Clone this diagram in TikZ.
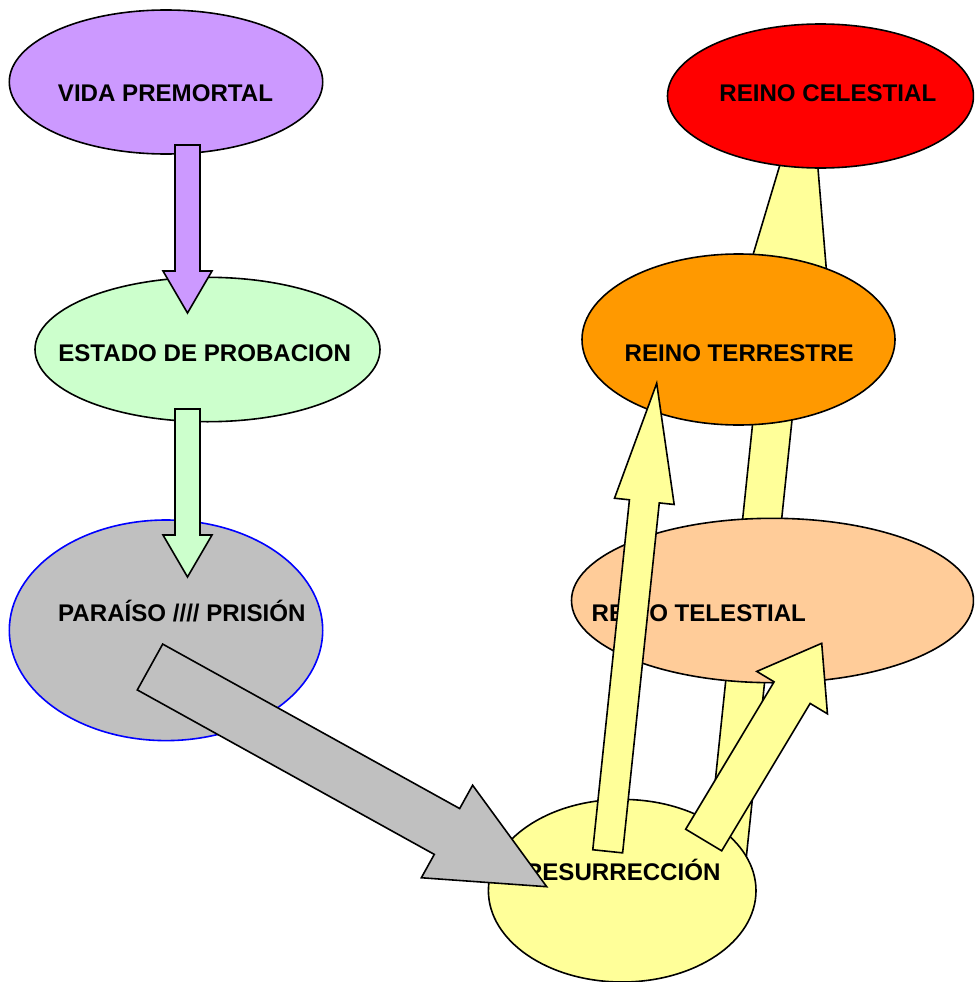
\documentclass[tikz,border=0pt]{standalone}
\usepackage{fontspec}
\setmainfont{Liberation Sans}
\usetikzlibrary{shapes.geometric,calc}
\definecolor{cPurple}{HTML}{CC99FF}
\definecolor{cGreen}{HTML}{CCFFCC}
\definecolor{cGray}{HTML}{C0C0C0}
\definecolor{cYellow}{HTML}{FFFF99}
\definecolor{cRed}{HTML}{FF0000}
\definecolor{cOrange}{HTML}{FF9900}
\definecolor{cPeach}{HTML}{FFCC99}
\definecolor{cBlue}{HTML}{0000FF}
\tikzset{
  oval/.style={ellipse, draw=black, line width=1.6pt, inner sep=0pt},
  lbl/.style={font=\fontsize{24.1}{28}\selectfont\bfseries, inner sep=0pt, anchor=base},
  blk/.style={draw=black, line width=1.6pt, line join=miter},
}
% #1 style, #2 tail, #3 tip, #4 half shaft width, #5 half head width, #6 head length, #7 name
\newcommand\blockarrow[7]{%
  \coordinate (#7-hb) at ($(#3)!#6!(#2)$);
  \draw[blk,#1] ($(#2)!#4!90:(#3)$) -- ($(#7-hb)!#4!90:(#3)$) -- ($(#7-hb)!#5!90:(#3)$)
    -- (#3) -- ($(#7-hb)!#5!-90:(#3)$) -- ($(#7-hb)!#4!-90:(#3)$) -- ($(#2)!#4!-90:(#3)$) -- cycle;
}
\begin{document}
\begin{tikzpicture}[x=1pt,y=-1pt]
\clip (0,0) rectangle (974,982);
\useasboundingbox (0,0) rectangle (974,982);

% arrow endpoints
\coordinate (bigT) at (724.4,880);
\coordinate (bigH) at (809.5,66);
\coordinate (pT) at (187.5,145);
\coordinate (pH) at (187.5,313);
\coordinate (gT) at (187.5,409);
\coordinate (gH) at (187.5,577);
\coordinate (sT) at (150,667);
\coordinate (sH) at (546.7,886.7);
\coordinate (y1T) at (607.7,851.3);
\coordinate (y1H) at (656.7,383.3);
\coordinate (y2T) at (703.7,840);
\coordinate (y2H) at (821.7,643.3);

% big yellow arrow behind everything
\blockarrow{fill=cYellow}{bigT}{bigH}{19.4pt}{42.5pt}{225pt}{big}

% ellipses
\node[oval, fill=cPurple, minimum width=313.4pt, minimum height=144pt] (vida) at (166,82) {};
\node[oval, fill=cGreen, minimum width=345pt, minimum height=144.4pt] (estado) at (207.5,349.5) {};
\node[oval, fill=cGray, draw=cBlue, minimum width=313.4pt, minimum height=220.6pt] (paraiso) at (166,630.3) {};
\node[oval, fill=cRed, minimum width=306pt, minimum height=144pt] (celestial) at (820.5,96) {};
\node[oval, fill=cOrange, minimum width=313pt, minimum height=171pt] (terrestre) at (738.5,339.5) {};
\node[oval, fill=cPeach, minimum width=402pt, minimum height=164.4pt] (telestial) at (772.5,600.5) {};
\node[oval, fill=cYellow, minimum width=267.6pt, minimum height=182.6pt] (resurr) at (622.2,890.7) {};

% texts
\node[lbl] (vidat) at (165.5,101) {VIDA PREMORTAL};
\node[lbl] (estadot) at (204.7,361.7) {ESTADO DE PROBACION};
\node[lbl] (paraisot) at (181.8,621.7) {PARAÍSO //// PRISIÓN};
\node[lbl] (celestialt) at (827.8,101.7) {REINO CELESTIAL};
\node[lbl] (terrestret) at (739.2,361.7) {REINO TERRESTRE};
\node[lbl] (telestialt) at (698.8,621.7) {REINO TELESTIAL};
\node[lbl, anchor=base east] (resurrt) at (720.7,880) {RESURRECCIÓN};

% block arrows in front
\blockarrow{fill=cPurple}{pT}{pH}{12.5pt}{24.5pt}{42pt}{purple}
\blockarrow{fill=cGreen}{gT}{gH}{12.5pt}{24.5pt}{42pt}{green}
\blockarrow{fill=cGray}{sT}{sH}{26.2pt}{52.9pt}{114pt}{gray}
\blockarrow{fill=cYellow}{y1T}{y1H}{15pt}{30pt}{118.7pt}{yone}
\blockarrow{fill=cYellow}{y2T}{y2H}{21pt}{41.2pt}{57.5pt}{ytwo}
\end{tikzpicture}
\end{document}
